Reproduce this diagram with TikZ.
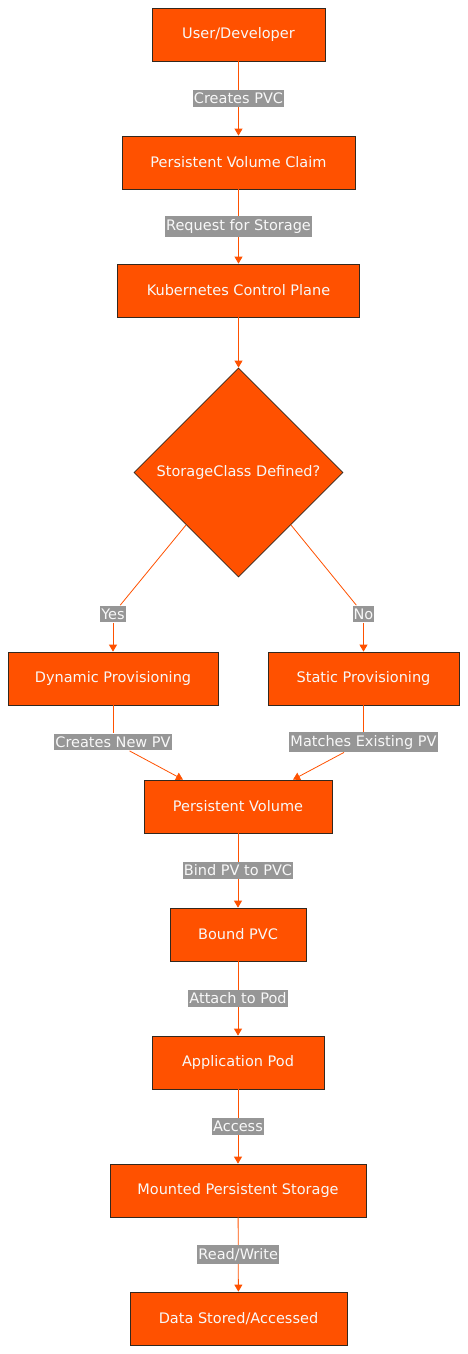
\documentclass[tikz,border=0pt]{standalone}
\usepackage{fontspec}
\setmainfont{DejaVu Sans}
\usetikzlibrary{shapes.geometric,arrows.meta}

\definecolor{pvorange}{RGB}{255,81,0}
\definecolor{boxline}{RGB}{51,40,30}
\definecolor{boxtext}{RGB}{248,248,248}
\definecolor{labelgray}{RGB}{150,150,150}

\tikzset{every picture/.style={line width=0.75pt}}
\tikzset{
  stepbox/.style={draw=boxline, fill=pvorange, text=boxtext, minimum height=53, inner sep=0, font=\fontsize{14.5}{17}\selectfont},
  decision/.style={diamond, aspect=1, draw=boxline, fill=pvorange, text=boxtext, minimum width=209, minimum height=209, inner sep=0, font=\fontsize{14.5}{17}\selectfont},
  elabel/.style={fill=labelgray, text=boxtext, inner xsep=1, inner ysep=3, font=\fontsize{14.5}{17}\selectfont},
  flowline/.style={draw=pvorange, line width=0.8pt},
  flow/.style={flowline, -{Triangle[length=7,width=8]}}
}

\begin{document}
\begin{tikzpicture}[x=1pt,y=1pt,yscale=-1,xscale=1]
%set diagram to the size of the reference
\useasboundingbox (0,0) rectangle (468,1354);

%Shape: Rectangle
\node[stepbox, minimum width=173] (user) at (238.5,34.5) {User/Developer};
%Shape: Rectangle
\node[stepbox, minimum width=233] (pvc) at (238.5,162.5) {Persistent Volume Claim};
%Shape: Rectangle
\node[stepbox, minimum width=242] (kcp) at (238.5,290.5) {Kubernetes Control Plane};
%Shape: Diamond
\node[decision] (sc) at (238.5,472.5) {StorageClass Defined?};
%Shape: Rectangle
\node[stepbox, minimum width=210] (dyn) at (113,678.5) {Dynamic Provisioning};
%Shape: Rectangle
\node[stepbox, minimum width=191] (stat) at (363.5,678.5) {Static Provisioning};
%Shape: Rectangle
\node[stepbox, minimum width=188] (pv) at (238,806.5) {Persistent Volume};
%Shape: Rectangle
\node[stepbox, minimum width=136] (bound) at (238,934.5) {Bound PVC};
%Shape: Rectangle
\node[stepbox, minimum width=172] (pod) at (238,1062.5) {Application Pod};
%Shape: Rectangle
\node[stepbox, minimum width=256] (mount) at (238,1190.5) {Mounted Persistent Storage};
%Shape: Rectangle
\node[stepbox, minimum width=217] (data) at (238.5,1318.5) {Data Stored/Accessed};

% Text Node
\node[elabel] (yes) at (113,614) {Yes};
% Text Node
\node[elabel] (no) at (363.5,614) {No};
% Text Node
\node[elabel] (newpv) at (113,742) {Creates New PV};
% Text Node
\node[elabel] (oldpv) at (363.5,742) {Matches Existing PV};

%Straight Lines
\draw[flow] (user) -- node[elabel] {Creates PVC} (pvc);
\draw[flow] (pvc) -- node[elabel] {Request for Storage} (kcp);
\draw[flow] (kcp) -- (sc);
\draw[flowline] (sc.south west) -- (yes);
\draw[flow] (yes) -- (dyn);
\draw[flowline] (sc.south east) -- (no);
\draw[flow] (no) -- (stat);
\draw[flowline] (dyn) -- (newpv);
\draw[flow] (newpv) -- ([xshift=-55]pv.north);
\draw[flowline] (stat) -- (oldpv);
\draw[flow] (oldpv) -- ([xshift=55]pv.north);
\draw[flow] (pv) -- node[elabel] {Bind PV to PVC} (bound);
\draw[flow] (bound) -- node[elabel] {Attach to Pod} (pod);
\draw[flow] (pod) -- node[elabel] {Access} (mount);
\draw[flow] (mount) -- node[elabel] {Read/Write} (data);

\end{tikzpicture}
\end{document}
